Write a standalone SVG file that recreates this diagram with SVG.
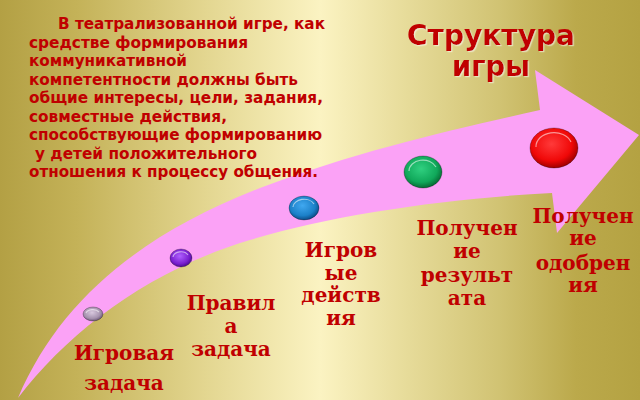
<svg xmlns="http://www.w3.org/2000/svg" width="640" height="400" viewBox="0 0 640 400">
<defs>
<linearGradient id="bg" x1="0" y1="0" x2="640" y2="0" gradientUnits="userSpaceOnUse">
<stop offset="0" stop-color="#B3A044"/>
<stop offset="0.12" stop-color="#C4B258"/>
<stop offset="0.32" stop-color="#E3D690"/>
<stop offset="0.5" stop-color="#FBF3C2"/>
<stop offset="0.62" stop-color="#E9DE9E"/>
<stop offset="0.78" stop-color="#D1C373"/>
<stop offset="0.9" stop-color="#BBA94B"/>
<stop offset="1" stop-color="#B4A242"/>
</linearGradient>
<radialGradient id="gLav" cx="0.45" cy="0.4" r="0.6"><stop offset="0" stop-color="#D8C8DE"/><stop offset="0.7" stop-color="#A592AE"/><stop offset="1" stop-color="#6E5A78"/></radialGradient>
<radialGradient id="gPur" cx="0.45" cy="0.4" r="0.6"><stop offset="0" stop-color="#B060FF"/><stop offset="0.7" stop-color="#7A20D0"/><stop offset="1" stop-color="#4A0A90"/></radialGradient>
<radialGradient id="gBlu" cx="0.45" cy="0.4" r="0.6"><stop offset="0" stop-color="#40A8F0"/><stop offset="0.7" stop-color="#1C80C8"/><stop offset="1" stop-color="#0C4C88"/></radialGradient>
<radialGradient id="gGrn" cx="0.45" cy="0.4" r="0.6"><stop offset="0" stop-color="#30D080"/><stop offset="0.7" stop-color="#10A85A"/><stop offset="1" stop-color="#066A34"/></radialGradient>
<radialGradient id="gRed" cx="0.45" cy="0.4" r="0.6"><stop offset="0" stop-color="#FF3A3A"/><stop offset="0.7" stop-color="#F00808"/><stop offset="1" stop-color="#A00000"/></radialGradient>
<filter id="glow" x="-10%" y="-20%" width="120%" height="150%">
<feDropShadow dx="1.2" dy="1.2" stdDeviation="0.6" flood-color="#FFFFFF" flood-opacity="0.5"/>
</filter>
<style>
.para{font-family:"DejaVu Sans","Liberation Sans",sans-serif;font-weight:bold;font-size:15px;fill:#C00000}
.title{font-family:"DejaVu Sans","Liberation Sans",sans-serif;font-weight:bold;font-size:29px;fill:#C00000;text-anchor:middle}
.lbl{font-family:"DejaVu Serif","Liberation Serif",serif;font-weight:bold;font-size:20px;fill:#C00000;text-anchor:middle}
.rim{stroke:#000;stroke-opacity:0.35;stroke-width:0.8}
.hl{fill:none;stroke:#FFFFFF;stroke-opacity:0.55;stroke-width:1.2}
</style>
</defs>
<rect x="0" y="0" width="640" height="400" fill="url(#bg)"/>

<g id="arrow">
<path d="M18,398 C60,300 140,235 260,188 C360,150 460,128 540,110 L535,70 L639,135 L557,233 L552,193 C450,198 330,215 250,240 C150,270 70,330 18,398 Z" fill="#FBA2F6"/>
</g>

<g id="intro">
<text class="para" x="58" y="29" textLength="267" lengthAdjust="spacingAndGlyphs">В театрализованной игре, как</text>
<text class="para" x="29" y="47.5" textLength="219" lengthAdjust="spacingAndGlyphs">средстве формирования</text>
<text class="para" x="29" y="66" textLength="158" lengthAdjust="spacingAndGlyphs">коммуникативной</text>
<text class="para" x="29" y="84.5" textLength="269" lengthAdjust="spacingAndGlyphs">компетентности должны быть</text>
<text class="para" x="29" y="103" textLength="294" lengthAdjust="spacingAndGlyphs">общие интересы, цели, задания,</text>
<text class="para" x="29" y="121.5" textLength="198" lengthAdjust="spacingAndGlyphs">совместные действия,</text>
<text class="para" x="29" y="140" textLength="293" lengthAdjust="spacingAndGlyphs">способствующие формированию</text>
<text class="para" x="35" y="158.5" textLength="222" lengthAdjust="spacingAndGlyphs">у детей положительного</text>
<text class="para" x="29" y="177" textLength="289" lengthAdjust="spacingAndGlyphs">отношения к процессу общения.</text>
</g>

<g id="title" filter="url(#glow)">
<text class="title" x="491" y="45" textLength="168" lengthAdjust="spacingAndGlyphs">Структура</text>
<text class="title" x="491" y="76" textLength="78" lengthAdjust="spacingAndGlyphs">игры</text>
</g>

<g id="node1">
<ellipse class="rim" cx="93" cy="314" rx="10" ry="7" fill="url(#gLav)"/>
<path class="hl" d="M86,313 A7,4.5 0 0 1 99,312"/>
<text class="lbl" x="124" y="360">Игровая</text>
<text class="lbl" x="124" y="390">задача</text>
</g>

<g id="node2">
<ellipse class="rim" cx="181" cy="258" rx="11" ry="9" fill="url(#gPur)"/>
<path class="hl" d="M173,257 A8,6 0 0 1 188,255"/>
<text class="lbl" x="231" y="310">Правил</text>
<text class="lbl" x="231" y="333">а</text>
<text class="lbl" x="231" y="356">задача</text>
</g>

<g id="node3">
<ellipse class="rim" cx="304" cy="208" rx="15" ry="12" fill="url(#gBlu)"/>
<path class="hl" d="M293,207 A11,8 0 0 1 314,204"/>
<text class="lbl" x="341" y="257">Игров</text>
<text class="lbl" x="341" y="280">ые</text>
<text class="lbl" x="341" y="302">действ</text>
<text class="lbl" x="341" y="325">ия</text>
</g>

<g id="node4">
<ellipse class="rim" cx="423" cy="172" rx="19" ry="16" fill="url(#gGrn)"/>
<path class="hl" d="M409,171 A14,11 0 0 1 436,167"/>
<text class="lbl" x="467" y="235">Получен</text>
<text class="lbl" x="467" y="258">ие</text>
<text class="lbl" x="467" y="282">результ</text>
<text class="lbl" x="467" y="305">ата</text>
</g>

<g id="node5">
<ellipse class="rim" cx="554" cy="148" rx="24" ry="20" fill="url(#gRed)"/>
<path class="hl" d="M536,147 A18,14 0 0 1 571,142"/>
<text class="lbl" x="583" y="223">Получен</text>
<text class="lbl" x="583" y="245">ие</text>
<text class="lbl" x="583" y="270">одобрен</text>
<text class="lbl" x="583" y="292">ия</text>
</g>
</svg>
